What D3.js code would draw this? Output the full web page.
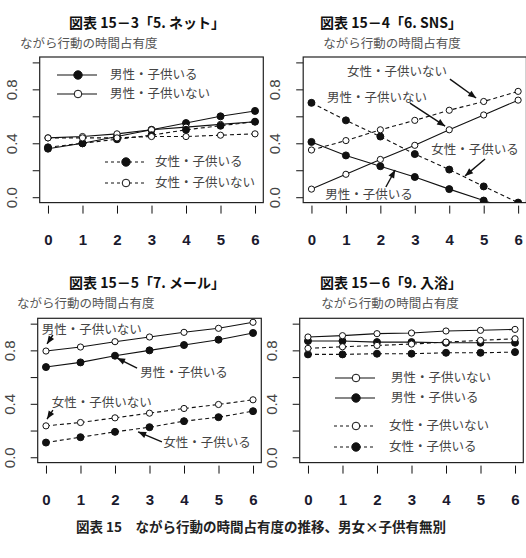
<!DOCTYPE html>
<html>
<head>
<meta charset="utf-8">
<script src="https://cdn.jsdelivr.net/npm/d3@7"></script>
<style>
  html, body { margin: 0; padding: 0; background: #fff; }
  svg { display: block; }
</style>
</head>
<body>
<svg id="chart" width="526" height="558"></svg>
<script>
// x axis: years (0..6)
const xValues = [0, 1, 2, 3, 4, 5, 6];
const yTicks = [0, 0.2, 0.4, 0.6, 0.8, 1.0];
const yTickLabels = ['0.0', '', '0.4', '', '0.8', ''];

const seriesNames = ['男性・子供いる', '男性・子供いない', '女性・子供いる', '女性・子供いない'];

// 5. ネット
const netMaleKids = [0.36, 0.40, 0.45, 0.50, 0.55, 0.60, 0.64];
const netMaleNoKids = [0.44, 0.45, 0.47, 0.50, 0.52, 0.54, 0.56];
const netFemaleKids = [0.37, 0.40, 0.43, 0.46, 0.50, 0.53, 0.56];
const netFemaleNoKids = [0.44, 0.44, 0.44, 0.45, 0.45, 0.46, 0.47];

// 6. SNS
const snsMaleKids = [0.41, 0.31, 0.23, 0.15, 0.06, -0.025, -0.11];
const snsMaleNoKids = [0.06, 0.17, 0.28, 0.385, 0.50, 0.61, 0.72];
const snsFemaleKids = [0.70, 0.57, 0.45, 0.32, 0.205, 0.08, -0.04];
const snsFemaleNoKids = [0.35, 0.42, 0.50, 0.57, 0.645, 0.71, 0.785];

// 7. メール
const mailMaleKids = [0.675, 0.71, 0.76, 0.80, 0.84, 0.88, 0.93];
const mailMaleNoKids = [0.795, 0.825, 0.865, 0.90, 0.935, 0.965, 1.01];
const mailFemaleKids = [0.11, 0.15, 0.19, 0.225, 0.27, 0.30, 0.345];
const mailFemaleNoKids = [0.235, 0.26, 0.295, 0.33, 0.365, 0.395, 0.43];

// 9. 入浴
const bathMaleKids = [0.87, 0.87, 0.862, 0.862, 0.857, 0.857, 0.857];
const bathMaleNoKids = [0.90, 0.91, 0.925, 0.93, 0.945, 0.95, 0.957];
const bathFemaleKids = [0.77, 0.77, 0.775, 0.775, 0.782, 0.782, 0.787];
const bathFemaleNoKids = [0.815, 0.827, 0.837, 0.847, 0.862, 0.875, 0.887];

const svg = d3.select('#chart');
const defs = svg.append('defs');

defs.append('marker')
  .attr('id', 'arrowhead')
  .attr('viewBox', '0 -5 10 10')
  .attr('refX', 10)
  .attr('refY', 0)
  .attr('orient', 'auto')
  .attr('markerUnits', 'userSpaceOnUse')
  .attr('markerWidth', 11)
  .attr('markerHeight', 8)
  .append('path')
  .attr('d', 'M0,-4L10,0L0,4Z')
  .attr('fill', '#111');

const textFont = '"Noto Sans CJK JP", "Noto Sans", sans-serif';
const tickFont = '"Liberation Sans Narrow", "Liberation Sans", Arial, sans-serif';

const panels = [
  {
    id: 'p1', title: '図表 15－3「5. ネット」', titleX: 147, titleY: 28,
    subX: 20, subY: 48, subAnchor: 'start',
    left: 39.7, right: 263.3, top: 57, bottom: 202.6,
    series: [netMaleKids, netMaleNoKids, netFemaleKids, netFemaleNoKids],
    legends: [
      { x: 57, y: 75, order: [0, 1], gap: 19, lineW: 40, textDx: 53 },
      { x: 105, y: 162, order: [2, 3], gap: 21, lineW: 40, textDx: 50 }
    ]
  },
  {
    id: 'p2', title: '図表 15－4「6. SNS」', titleX: 391, titleY: 28,
    subX: 392, subY: 48, subAnchor: 'middle',
    left: 303.2, right: 526.4, top: 57, bottom: 202.6,
    series: [snsMaleKids, snsMaleNoKids, snsFemaleKids, snsFemaleNoKids],
    notes: [
      { s: 3, tx: 2.48, ty: 0.928, ax: [4.02, 0.876], bx: [4.78, 0.736] },
      { s: 1, tx: 1.90, ty: 0.742, ax: [2.86, 0.698], bx: [3.88, 0.527] },
      { s: 2, tx: 4.75, ty: 0.35, ax: [5.04, 0.284], bx: [4.46, 0.158] },
      { s: 0, tx: 1.67, ty: 0.017, ax: [2.16, 0.076], bx: [2.43, 0.202] }
    ]
  },
  {
    id: 'p3', title: '図表 15－5「7. メール」', titleX: 147, titleY: 288,
    subX: 17, subY: 308, subAnchor: 'start',
    left: 37.7, right: 261.3, top: 318.3, bottom: 462.6,
    series: [mailMaleKids, mailMaleNoKids, mailFemaleKids, mailFemaleNoKids],
    notes: [
      { s: 1, tx: 1.33, ty: 0.952, ax: [0.2, 0.915], bx: [0.03, 0.848] },
      { s: 0, tx: 4.0, ty: 0.63, ax: [2.64, 0.668], bx: [2.06, 0.742] },
      { s: 3, tx: 1.62, ty: 0.406, ax: [0.2, 0.353], bx: [0.03, 0.286] },
      { s: 2, tx: 4.67, ty: 0.107, ax: [3.36, 0.115], bx: [2.67, 0.19] }
    ]
  },
  {
    id: 'p4', title: '図表 15－6「9. 入浴」', titleX: 391, titleY: 288,
    subX: 390, subY: 308, subAnchor: 'middle',
    left: 299.7, right: 523.3, top: 318.3, bottom: 462.6,
    series: [bathMaleKids, bathMaleNoKids, bathFemaleKids, bathFemaleNoKids],
    legends: [
      { x: 335, y: 378, order: [1, 0], gap: 20, lineW: 40, textDx: 56 },
      { x: 334, y: 426, order: [3, 2], gap: 21, lineW: 42, textDx: 55 }
    ]
  }
];

const isMale = s => s < 2;
const isFilled = s => s % 2 === 0;

panels.forEach(p => {
  const x = d3.scaleLinear().domain([-0.24, 6.24]).range([p.left, p.right]);
  const y = d3.scaleLinear().domain([-0.04, 1.04]).range([p.bottom, p.top]);
  const g = svg.append('g').attr('class', p.id);

  // Titles
  g.append('text')
    .attr('x', p.titleX).attr('y', p.titleY)
    .attr('text-anchor', 'middle')
    .style('font-family', textFont)
    .style('font-size', '14px')
    .style('font-weight', 'bold')
    .style('fill', '#111')
    .text(p.title);

  g.append('text')
    .attr('x', p.subX).attr('y', p.subY)
    .attr('text-anchor', p.subAnchor)
    .style('font-family', textFont)
    .style('font-size', '12.5px')
    .style('fill', '#555')
    .text('ながら行動の時間占有度');

  // Clip to plot region
  defs.append('clipPath').attr('id', 'clip-' + p.id)
    .append('rect')
    .attr('x', p.left).attr('y', p.top)
    .attr('width', p.right - p.left).attr('height', p.bottom - p.top);

  // Y axis (ticks only, box acts as the line)
  const yAxis = d3.axisLeft(y)
    .tickValues(yTicks)
    .tickSize(7)
    .tickFormat((d, i) => yTickLabels[i]);
  const ya = g.append('g')
    .attr('transform', `translate(${p.left},0)`)
    .call(yAxis);
  ya.select('.domain').remove();
  ya.selectAll('line').attr('stroke', '#111');
  ya.selectAll('text')
    .attr('x', 0)
    .attr('y', 0)
    .attr('dy', '0.35em')
    .attr('transform', 'translate(-28,0) rotate(-90)')
    .attr('text-anchor', 'middle')
    .style('font-family', tickFont)
    .style('font-size', '15px')
    .style('fill', '#444');

  // X axis (ticks only, separated from the box)
  const xAxis = d3.axisBottom(x)
    .tickValues(xValues)
    .tickSize(8)
    .tickPadding(21)
    .tickFormat(d3.format('d'));
  const xa = g.append('g')
    .attr('transform', `translate(0,${p.bottom + 3})`)
    .call(xAxis);
  xa.select('.domain').remove();
  xa.selectAll('line').attr('stroke', '#111');
  xa.selectAll('text')
    .style('font-family', tickFont)
    .style('font-size', '15px')
    .style('font-weight', 'bold')
    .style('fill', '#1a1a2e');

  // Plot box
  g.append('rect')
    .attr('x', p.left).attr('y', p.top)
    .attr('width', p.right - p.left).attr('height', p.bottom - p.top)
    .attr('fill', 'none')
    .attr('stroke', '#222')
    .attr('stroke-width', 1.2);

  // Series
  const plot = g.append('g').attr('clip-path', `url(#clip-${p.id})`);
  const line = d3.line().x((d, i) => x(xValues[i])).y(d => y(d));

  p.series.forEach((vals, s) => {
    plot.append('path')
      .datum(vals)
      .attr('d', line)
      .attr('fill', 'none')
      .attr('stroke', '#111')
      .attr('stroke-width', 1.1)
      .attr('stroke-dasharray', isMale(s) ? null : '4,3');

    plot.selectAll(null)
      .data(vals)
      .enter()
      .append('circle')
      .attr('cx', (d, i) => x(xValues[i]))
      .attr('cy', d => y(d))
      .attr('r', isFilled(s) ? 3.5 : 3.1)
      .attr('fill', isFilled(s) ? '#111' : '#fff')
      .attr('stroke', '#111')
      .attr('stroke-width', 1);
  });

  // Legends
  (p.legends || []).forEach(lg => {
    lg.order.forEach((s, k) => {
      const ly = lg.y + k * lg.gap;
      g.append('line')
        .attr('x1', lg.x).attr('x2', lg.x + lg.lineW)
        .attr('y1', ly).attr('y2', ly)
        .attr('stroke', '#111')
        .attr('stroke-width', 1.1)
        .attr('stroke-dasharray', isMale(s) ? null : '3,3');
      g.append('circle')
        .attr('cx', lg.x + lg.lineW / 2 + 1).attr('cy', ly)
        .attr('r', isFilled(s) ? 4.2 : 3.8)
        .attr('fill', isFilled(s) ? '#111' : '#fff')
        .attr('stroke', '#111');
      g.append('text')
        .attr('x', lg.x + lg.textDx).attr('y', ly)
        .attr('dy', '0.35em')
        .style('font-family', textFont)
        .style('font-size', '12.5px')
        .style('fill', '#444')
        .text(seriesNames[s]);
    });
  });

  // Arrow annotations
  (p.notes || []).forEach(n => {
    g.append('line')
      .attr('x1', x(n.ax[0])).attr('y1', y(n.ax[1]))
      .attr('x2', x(n.bx[0])).attr('y2', y(n.bx[1]))
      .attr('stroke', '#111')
      .attr('stroke-width', 1.4)
      .attr('marker-end', 'url(#arrowhead)');
    g.append('text')
      .attr('x', x(n.tx)).attr('y', y(n.ty))
      .attr('dy', '0.35em')
      .attr('text-anchor', 'middle')
      .style('font-family', textFont)
      .style('font-size', '12.5px')
      .style('fill', '#444')
      .text(seriesNames[n.s]);
  });
});

// Figure caption
svg.append('text')
  .attr('x', 261).attr('y', 532)
  .attr('text-anchor', 'middle')
  .style('font-family', textFont)
  .style('font-size', '13.5px')
  .style('font-weight', 'bold')
  .style('fill', '#222')
  .text('図表 15　ながら行動の時間占有度の推移、男女×子供有無別');
</script>
</body>
</html>
